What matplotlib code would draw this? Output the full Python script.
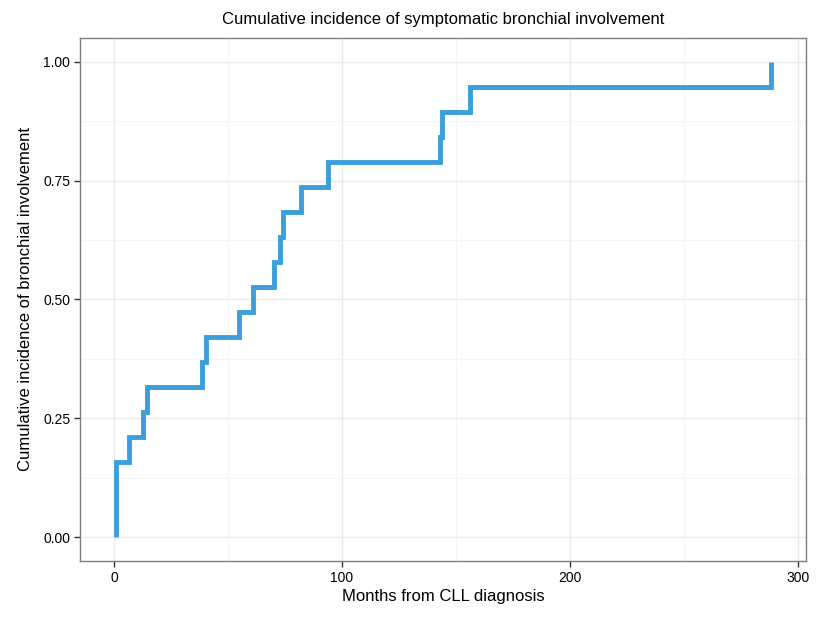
import matplotlib
matplotlib.use("Agg")
import matplotlib.pyplot as plt
from matplotlib.ticker import MultipleLocator, FormatStrFormatter

plt.rcParams['font.family'] = ['Liberation Sans', 'DejaVu Sans']

# event times (months) and cumulative incidence after each event
months = [1, 1, 6.5, 12.7, 14.5, 38.6, 40.5, 54.8, 61, 70, 73, 74, 82, 94, 143, 144, 156, 288]
incidence = [0.0, 0.158, 0.211, 0.263, 0.316, 0.368, 0.421, 0.474, 0.526, 0.579,
             0.632, 0.684, 0.737, 0.789, 0.842, 0.895, 0.947, 1.0]

fig = plt.figure(figsize=(8.18, 6.17), dpi=100)
ax = fig.add_axes([0.0978, 0.0908, 0.8875, 0.8476])

ax.step(months, incidence, where='post', color='#3A9FDB', lw=3.5,
        solid_capstyle='butt', solid_joinstyle='miter', zorder=3)

ax.set_xlim(-14.9, 303.5)
ax.set_ylim(-0.05, 1.05)

ax.xaxis.set_major_locator(MultipleLocator(100))
ax.xaxis.set_minor_locator(MultipleLocator(50))
ax.yaxis.set_major_locator(MultipleLocator(0.25))
ax.yaxis.set_minor_locator(MultipleLocator(0.125))
ax.yaxis.set_major_formatter(FormatStrFormatter('%.2f'))

ax.grid(which='major', color='#EBEBEB', lw=1.0)
ax.grid(which='minor', color='#F5F5F5', lw=0.8)
ax.set_axisbelow(True)

for s in ax.spines.values():
    s.set_color('#7F7F7F')
    s.set_linewidth(1.0)

ax.tick_params(which='major', length=4, width=1, color='#333333',
               labelsize=10, labelcolor='black', pad=3)
ax.tick_params(which='minor', length=0)

ax.set_xlabel('Months from CLL diagnosis', fontsize=12, labelpad=3)
ax.set_ylabel('Cumulative incidence of bronchial involvement', fontsize=12, labelpad=7)
ax.set_title('Cumulative incidence of symptomatic bronchial involvement', fontsize=12, pad=10)

fig.savefig('out.png', dpi=100)
